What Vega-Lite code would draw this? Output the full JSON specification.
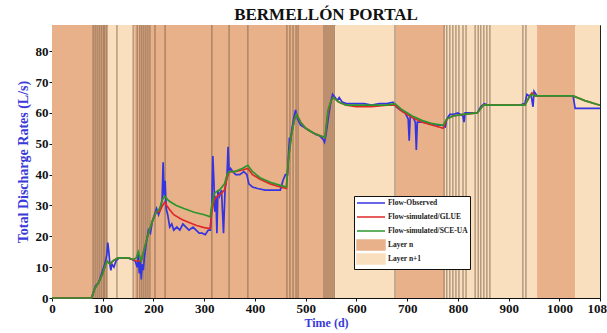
{
  "$schema": "https://vega.github.io/schema/vega-lite/v6.json",
  "autosize": {"type": "none"},
  "width": 548,
  "height": 273,
  "padding": {"left": 52, "top": 25, "right": 7, "bottom": 35},
  "background": "white",
  "config": {
    "view": {"stroke": "#222", "strokeWidth": 1},
    "font": "Liberation Serif"
  },
  "title": {
    "text": "BERMELLÓN PORTAL",
    "font": "Liberation Serif",
    "fontSize": 17,
    "fontWeight": "bold",
    "color": "#111",
    "offset": 0,
    "anchor": "middle"
  },
  "datasets": {
    "bands": [
      {"x0": 0, "x1": 110, "key": "Layer n"},
      {"x0": 110, "x1": 162, "key": "Layer n+1"},
      {"x0": 162, "x1": 558, "key": "Layer n"},
      {"x0": 558, "x1": 678, "key": "Layer n+1"},
      {"x0": 678, "x1": 773, "key": "Layer n"},
      {"x0": 773, "x1": 956, "key": "Layer n+1"},
      {"x0": 956, "x1": 1031, "key": "Layer n"},
      {"x0": 1031, "x1": 1080, "key": "Layer n+1"}
    ],
    "marks": [
      {"t": 81}, {"t": 85}, {"t": 89}, {"t": 93}, {"t": 97}, {"t": 101}, {"t": 104}, {"t": 108},
      {"t": 128},
      {"t": 160}, {"t": 168}, {"t": 173}, {"t": 177}, {"t": 181}, {"t": 185}, {"t": 189}, {"t": 193},
      {"t": 203}, {"t": 223},
      {"t": 315}, {"t": 349}, {"t": 386},
      {"t": 463}, {"t": 469}, {"t": 475}, {"t": 481}, {"t": 485},
      {"t": 536}, {"t": 540}, {"t": 544}, {"t": 548}, {"t": 552}, {"t": 556},
      {"t": 676},
      {"t": 773}, {"t": 778}, {"t": 784}, {"t": 790}, {"t": 796}, {"t": 802},
      {"t": 810}, {"t": 816},
      {"t": 834}, {"t": 840}, {"t": 845}, {"t": 851}, {"t": 857}, {"t": 863},
      {"t": 928}, {"t": 934}
    ],
    "flows": [
      {"t": 0, "v": 0, "key": "Flow-Observed"},
      {"t": 78, "v": 0, "key": "Flow-Observed"},
      {"t": 82, "v": 2, "key": "Flow-Observed"},
      {"t": 86, "v": 4, "key": "Flow-Observed"},
      {"t": 92, "v": 5, "key": "Flow-Observed"},
      {"t": 98, "v": 8, "key": "Flow-Observed"},
      {"t": 104, "v": 11, "key": "Flow-Observed"},
      {"t": 108, "v": 14, "key": "Flow-Observed"},
      {"t": 110, "v": 18, "key": "Flow-Observed"},
      {"t": 112, "v": 15, "key": "Flow-Observed"},
      {"t": 114, "v": 11, "key": "Flow-Observed"},
      {"t": 116, "v": 9, "key": "Flow-Observed"},
      {"t": 118, "v": 11, "key": "Flow-Observed"},
      {"t": 122, "v": 10, "key": "Flow-Observed"},
      {"t": 126, "v": 12, "key": "Flow-Observed"},
      {"t": 132, "v": 13, "key": "Flow-Observed"},
      {"t": 140, "v": 13, "key": "Flow-Observed"},
      {"t": 150, "v": 13, "key": "Flow-Observed"},
      {"t": 158, "v": 12.5, "key": "Flow-Observed"},
      {"t": 164, "v": 12, "key": "Flow-Observed"},
      {"t": 168, "v": 10, "key": "Flow-Observed"},
      {"t": 170, "v": 14, "key": "Flow-Observed"},
      {"t": 172, "v": 8, "key": "Flow-Observed"},
      {"t": 174, "v": 12, "key": "Flow-Observed"},
      {"t": 176, "v": 6, "key": "Flow-Observed"},
      {"t": 178, "v": 11, "key": "Flow-Observed"},
      {"t": 180, "v": 9, "key": "Flow-Observed"},
      {"t": 182, "v": 13, "key": "Flow-Observed"},
      {"t": 186, "v": 18, "key": "Flow-Observed"},
      {"t": 190, "v": 22, "key": "Flow-Observed"},
      {"t": 194, "v": 21, "key": "Flow-Observed"},
      {"t": 198, "v": 25, "key": "Flow-Observed"},
      {"t": 202, "v": 27, "key": "Flow-Observed"},
      {"t": 206, "v": 29, "key": "Flow-Observed"},
      {"t": 210, "v": 27, "key": "Flow-Observed"},
      {"t": 214, "v": 29, "key": "Flow-Observed"},
      {"t": 217, "v": 32, "key": "Flow-Observed"},
      {"t": 219, "v": 44, "key": "Flow-Observed"},
      {"t": 221, "v": 33, "key": "Flow-Observed"},
      {"t": 223, "v": 38, "key": "Flow-Observed"},
      {"t": 225, "v": 29, "key": "Flow-Observed"},
      {"t": 228, "v": 27, "key": "Flow-Observed"},
      {"t": 232, "v": 23, "key": "Flow-Observed"},
      {"t": 236, "v": 24, "key": "Flow-Observed"},
      {"t": 240, "v": 22, "key": "Flow-Observed"},
      {"t": 246, "v": 23, "key": "Flow-Observed"},
      {"t": 252, "v": 22, "key": "Flow-Observed"},
      {"t": 258, "v": 24, "key": "Flow-Observed"},
      {"t": 264, "v": 23, "key": "Flow-Observed"},
      {"t": 270, "v": 22, "key": "Flow-Observed"},
      {"t": 278, "v": 23, "key": "Flow-Observed"},
      {"t": 284, "v": 22, "key": "Flow-Observed"},
      {"t": 290, "v": 21, "key": "Flow-Observed"},
      {"t": 296, "v": 21, "key": "Flow-Observed"},
      {"t": 302, "v": 20.5, "key": "Flow-Observed"},
      {"t": 308, "v": 22, "key": "Flow-Observed"},
      {"t": 312, "v": 22, "key": "Flow-Observed"},
      {"t": 315, "v": 30, "key": "Flow-Observed"},
      {"t": 317, "v": 46, "key": "Flow-Observed"},
      {"t": 319, "v": 38, "key": "Flow-Observed"},
      {"t": 321, "v": 28, "key": "Flow-Observed"},
      {"t": 323, "v": 33, "key": "Flow-Observed"},
      {"t": 325, "v": 21, "key": "Flow-Observed"},
      {"t": 327, "v": 35, "key": "Flow-Observed"},
      {"t": 330, "v": 33, "key": "Flow-Observed"},
      {"t": 334, "v": 35, "key": "Flow-Observed"},
      {"t": 338, "v": 21, "key": "Flow-Observed"},
      {"t": 341, "v": 35, "key": "Flow-Observed"},
      {"t": 345, "v": 40, "key": "Flow-Observed"},
      {"t": 347, "v": 49, "key": "Flow-Observed"},
      {"t": 349, "v": 41, "key": "Flow-Observed"},
      {"t": 352, "v": 42, "key": "Flow-Observed"},
      {"t": 356, "v": 41, "key": "Flow-Observed"},
      {"t": 362, "v": 40, "key": "Flow-Observed"},
      {"t": 370, "v": 40, "key": "Flow-Observed"},
      {"t": 378, "v": 41, "key": "Flow-Observed"},
      {"t": 384, "v": 40, "key": "Flow-Observed"},
      {"t": 388, "v": 37, "key": "Flow-Observed"},
      {"t": 395, "v": 36, "key": "Flow-Observed"},
      {"t": 405, "v": 35.5, "key": "Flow-Observed"},
      {"t": 420, "v": 35, "key": "Flow-Observed"},
      {"t": 435, "v": 35, "key": "Flow-Observed"},
      {"t": 450, "v": 35, "key": "Flow-Observed"},
      {"t": 455, "v": 38, "key": "Flow-Observed"},
      {"t": 460, "v": 40, "key": "Flow-Observed"},
      {"t": 464, "v": 40, "key": "Flow-Observed"},
      {"t": 466, "v": 46, "key": "Flow-Observed"},
      {"t": 468, "v": 52, "key": "Flow-Observed"},
      {"t": 470, "v": 51, "key": "Flow-Observed"},
      {"t": 473, "v": 55, "key": "Flow-Observed"},
      {"t": 476, "v": 58, "key": "Flow-Observed"},
      {"t": 480, "v": 61, "key": "Flow-Observed"},
      {"t": 484, "v": 58, "key": "Flow-Observed"},
      {"t": 490, "v": 56, "key": "Flow-Observed"},
      {"t": 500, "v": 55, "key": "Flow-Observed"},
      {"t": 510, "v": 54, "key": "Flow-Observed"},
      {"t": 520, "v": 53, "key": "Flow-Observed"},
      {"t": 528, "v": 52.5, "key": "Flow-Observed"},
      {"t": 534, "v": 51.5, "key": "Flow-Observed"},
      {"t": 537, "v": 50.5, "key": "Flow-Observed"},
      {"t": 540, "v": 53, "key": "Flow-Observed"},
      {"t": 546, "v": 60, "key": "Flow-Observed"},
      {"t": 550, "v": 64, "key": "Flow-Observed"},
      {"t": 553, "v": 66, "key": "Flow-Observed"},
      {"t": 558, "v": 65, "key": "Flow-Observed"},
      {"t": 562, "v": 64, "key": "Flow-Observed"},
      {"t": 566, "v": 65, "key": "Flow-Observed"},
      {"t": 572, "v": 63.5, "key": "Flow-Observed"},
      {"t": 580, "v": 63, "key": "Flow-Observed"},
      {"t": 600, "v": 63, "key": "Flow-Observed"},
      {"t": 615, "v": 63, "key": "Flow-Observed"},
      {"t": 630, "v": 62.5, "key": "Flow-Observed"},
      {"t": 645, "v": 63, "key": "Flow-Observed"},
      {"t": 660, "v": 63, "key": "Flow-Observed"},
      {"t": 672, "v": 63.5, "key": "Flow-Observed"},
      {"t": 678, "v": 62, "key": "Flow-Observed"},
      {"t": 686, "v": 61, "key": "Flow-Observed"},
      {"t": 696, "v": 60, "key": "Flow-Observed"},
      {"t": 702, "v": 58, "key": "Flow-Observed"},
      {"t": 704, "v": 51, "key": "Flow-Observed"},
      {"t": 706, "v": 59, "key": "Flow-Observed"},
      {"t": 712, "v": 58.5, "key": "Flow-Observed"},
      {"t": 716, "v": 57, "key": "Flow-Observed"},
      {"t": 718, "v": 48, "key": "Flow-Observed"},
      {"t": 720, "v": 57, "key": "Flow-Observed"},
      {"t": 730, "v": 57, "key": "Flow-Observed"},
      {"t": 745, "v": 56.5, "key": "Flow-Observed"},
      {"t": 760, "v": 56, "key": "Flow-Observed"},
      {"t": 770, "v": 56, "key": "Flow-Observed"},
      {"t": 775, "v": 55.5, "key": "Flow-Observed"},
      {"t": 778, "v": 58, "key": "Flow-Observed"},
      {"t": 784, "v": 59.5, "key": "Flow-Observed"},
      {"t": 790, "v": 59.5, "key": "Flow-Observed"},
      {"t": 800, "v": 60, "key": "Flow-Observed"},
      {"t": 810, "v": 59, "key": "Flow-Observed"},
      {"t": 812, "v": 57, "key": "Flow-Observed"},
      {"t": 814, "v": 60, "key": "Flow-Observed"},
      {"t": 825, "v": 60, "key": "Flow-Observed"},
      {"t": 838, "v": 60, "key": "Flow-Observed"},
      {"t": 845, "v": 62, "key": "Flow-Observed"},
      {"t": 852, "v": 63, "key": "Flow-Observed"},
      {"t": 860, "v": 62.5, "key": "Flow-Observed"},
      {"t": 880, "v": 62.5, "key": "Flow-Observed"},
      {"t": 900, "v": 62.5, "key": "Flow-Observed"},
      {"t": 920, "v": 62.5, "key": "Flow-Observed"},
      {"t": 932, "v": 63, "key": "Flow-Observed"},
      {"t": 936, "v": 66, "key": "Flow-Observed"},
      {"t": 940, "v": 65.5, "key": "Flow-Observed"},
      {"t": 944, "v": 66, "key": "Flow-Observed"},
      {"t": 948, "v": 62, "key": "Flow-Observed"},
      {"t": 950, "v": 67, "key": "Flow-Observed"},
      {"t": 956, "v": 65.5, "key": "Flow-Observed"},
      {"t": 970, "v": 65.5, "key": "Flow-Observed"},
      {"t": 990, "v": 65.5, "key": "Flow-Observed"},
      {"t": 1010, "v": 65.5, "key": "Flow-Observed"},
      {"t": 1027, "v": 65.5, "key": "Flow-Observed"},
      {"t": 1031, "v": 61.5, "key": "Flow-Observed"},
      {"t": 1040, "v": 61.5, "key": "Flow-Observed"},
      {"t": 1060, "v": 61.5, "key": "Flow-Observed"},
      {"t": 1080, "v": 61.5, "key": "Flow-Observed"},

      {"t": 0, "v": 0, "key": "Flow-simulated/GLUE"},
      {"t": 78, "v": 0, "key": "Flow-simulated/GLUE"},
      {"t": 84, "v": 3, "key": "Flow-simulated/GLUE"},
      {"t": 92, "v": 5, "key": "Flow-simulated/GLUE"},
      {"t": 100, "v": 8, "key": "Flow-simulated/GLUE"},
      {"t": 108, "v": 12, "key": "Flow-simulated/GLUE"},
      {"t": 114, "v": 11, "key": "Flow-simulated/GLUE"},
      {"t": 120, "v": 12, "key": "Flow-simulated/GLUE"},
      {"t": 130, "v": 13, "key": "Flow-simulated/GLUE"},
      {"t": 150, "v": 13, "key": "Flow-simulated/GLUE"},
      {"t": 160, "v": 12.5, "key": "Flow-simulated/GLUE"},
      {"t": 166, "v": 12, "key": "Flow-simulated/GLUE"},
      {"t": 176, "v": 12, "key": "Flow-simulated/GLUE"},
      {"t": 182, "v": 16, "key": "Flow-simulated/GLUE"},
      {"t": 190, "v": 21, "key": "Flow-simulated/GLUE"},
      {"t": 198, "v": 25, "key": "Flow-simulated/GLUE"},
      {"t": 206, "v": 28, "key": "Flow-simulated/GLUE"},
      {"t": 212, "v": 28, "key": "Flow-simulated/GLUE"},
      {"t": 218, "v": 30, "key": "Flow-simulated/GLUE"},
      {"t": 222, "v": 31, "key": "Flow-simulated/GLUE"},
      {"t": 230, "v": 29, "key": "Flow-simulated/GLUE"},
      {"t": 240, "v": 27, "key": "Flow-simulated/GLUE"},
      {"t": 255, "v": 25.5, "key": "Flow-simulated/GLUE"},
      {"t": 270, "v": 24.5, "key": "Flow-simulated/GLUE"},
      {"t": 285, "v": 23.5, "key": "Flow-simulated/GLUE"},
      {"t": 300, "v": 22.8, "key": "Flow-simulated/GLUE"},
      {"t": 312, "v": 22.5, "key": "Flow-simulated/GLUE"},
      {"t": 315, "v": 28, "key": "Flow-simulated/GLUE"},
      {"t": 320, "v": 32, "key": "Flow-simulated/GLUE"},
      {"t": 326, "v": 33, "key": "Flow-simulated/GLUE"},
      {"t": 334, "v": 34, "key": "Flow-simulated/GLUE"},
      {"t": 340, "v": 35, "key": "Flow-simulated/GLUE"},
      {"t": 345, "v": 39, "key": "Flow-simulated/GLUE"},
      {"t": 350, "v": 41, "key": "Flow-simulated/GLUE"},
      {"t": 360, "v": 41, "key": "Flow-simulated/GLUE"},
      {"t": 375, "v": 41.5, "key": "Flow-simulated/GLUE"},
      {"t": 386, "v": 42, "key": "Flow-simulated/GLUE"},
      {"t": 395, "v": 40, "key": "Flow-simulated/GLUE"},
      {"t": 410, "v": 38.5, "key": "Flow-simulated/GLUE"},
      {"t": 430, "v": 37, "key": "Flow-simulated/GLUE"},
      {"t": 450, "v": 36, "key": "Flow-simulated/GLUE"},
      {"t": 462, "v": 35.5, "key": "Flow-simulated/GLUE"},
      {"t": 466, "v": 45, "key": "Flow-simulated/GLUE"},
      {"t": 472, "v": 53, "key": "Flow-simulated/GLUE"},
      {"t": 478, "v": 58, "key": "Flow-simulated/GLUE"},
      {"t": 482, "v": 59.5, "key": "Flow-simulated/GLUE"},
      {"t": 490, "v": 57, "key": "Flow-simulated/GLUE"},
      {"t": 500, "v": 55, "key": "Flow-simulated/GLUE"},
      {"t": 515, "v": 53.5, "key": "Flow-simulated/GLUE"},
      {"t": 530, "v": 52.5, "key": "Flow-simulated/GLUE"},
      {"t": 538, "v": 52, "key": "Flow-simulated/GLUE"},
      {"t": 544, "v": 60, "key": "Flow-simulated/GLUE"},
      {"t": 550, "v": 64, "key": "Flow-simulated/GLUE"},
      {"t": 555, "v": 65, "key": "Flow-simulated/GLUE"},
      {"t": 565, "v": 63.5, "key": "Flow-simulated/GLUE"},
      {"t": 580, "v": 62.5, "key": "Flow-simulated/GLUE"},
      {"t": 600, "v": 62, "key": "Flow-simulated/GLUE"},
      {"t": 630, "v": 62, "key": "Flow-simulated/GLUE"},
      {"t": 660, "v": 62.5, "key": "Flow-simulated/GLUE"},
      {"t": 676, "v": 62.5, "key": "Flow-simulated/GLUE"},
      {"t": 690, "v": 60.5, "key": "Flow-simulated/GLUE"},
      {"t": 710, "v": 58.5, "key": "Flow-simulated/GLUE"},
      {"t": 730, "v": 57, "key": "Flow-simulated/GLUE"},
      {"t": 750, "v": 56, "key": "Flow-simulated/GLUE"},
      {"t": 771, "v": 55, "key": "Flow-simulated/GLUE"},
      {"t": 778, "v": 58, "key": "Flow-simulated/GLUE"},
      {"t": 790, "v": 59, "key": "Flow-simulated/GLUE"},
      {"t": 810, "v": 59.5, "key": "Flow-simulated/GLUE"},
      {"t": 838, "v": 60, "key": "Flow-simulated/GLUE"},
      {"t": 850, "v": 62.5, "key": "Flow-simulated/GLUE"},
      {"t": 880, "v": 62.5, "key": "Flow-simulated/GLUE"},
      {"t": 932, "v": 62.5, "key": "Flow-simulated/GLUE"},
      {"t": 940, "v": 65, "key": "Flow-simulated/GLUE"},
      {"t": 946, "v": 66.5, "key": "Flow-simulated/GLUE"},
      {"t": 952, "v": 65.5, "key": "Flow-simulated/GLUE"},
      {"t": 980, "v": 65.5, "key": "Flow-simulated/GLUE"},
      {"t": 1027, "v": 65.5, "key": "Flow-simulated/GLUE"},
      {"t": 1050, "v": 64, "key": "Flow-simulated/GLUE"},
      {"t": 1080, "v": 62.5, "key": "Flow-simulated/GLUE"},

      {"t": 0, "v": 0, "key": "Flow-simulated/SCE-UA"},
      {"t": 78, "v": 0, "key": "Flow-simulated/SCE-UA"},
      {"t": 84, "v": 3, "key": "Flow-simulated/SCE-UA"},
      {"t": 92, "v": 5, "key": "Flow-simulated/SCE-UA"},
      {"t": 100, "v": 8, "key": "Flow-simulated/SCE-UA"},
      {"t": 108, "v": 12, "key": "Flow-simulated/SCE-UA"},
      {"t": 114, "v": 11, "key": "Flow-simulated/SCE-UA"},
      {"t": 120, "v": 12, "key": "Flow-simulated/SCE-UA"},
      {"t": 130, "v": 13, "key": "Flow-simulated/SCE-UA"},
      {"t": 150, "v": 13, "key": "Flow-simulated/SCE-UA"},
      {"t": 160, "v": 12.5, "key": "Flow-simulated/SCE-UA"},
      {"t": 166, "v": 13, "key": "Flow-simulated/SCE-UA"},
      {"t": 170, "v": 15, "key": "Flow-simulated/SCE-UA"},
      {"t": 176, "v": 12, "key": "Flow-simulated/SCE-UA"},
      {"t": 182, "v": 16, "key": "Flow-simulated/SCE-UA"},
      {"t": 190, "v": 21, "key": "Flow-simulated/SCE-UA"},
      {"t": 198, "v": 25, "key": "Flow-simulated/SCE-UA"},
      {"t": 206, "v": 28, "key": "Flow-simulated/SCE-UA"},
      {"t": 212, "v": 29, "key": "Flow-simulated/SCE-UA"},
      {"t": 218, "v": 32, "key": "Flow-simulated/SCE-UA"},
      {"t": 222, "v": 33, "key": "Flow-simulated/SCE-UA"},
      {"t": 230, "v": 31.5, "key": "Flow-simulated/SCE-UA"},
      {"t": 245, "v": 30, "key": "Flow-simulated/SCE-UA"},
      {"t": 260, "v": 29, "key": "Flow-simulated/SCE-UA"},
      {"t": 280, "v": 27.8, "key": "Flow-simulated/SCE-UA"},
      {"t": 300, "v": 27, "key": "Flow-simulated/SCE-UA"},
      {"t": 312, "v": 26.3, "key": "Flow-simulated/SCE-UA"},
      {"t": 315, "v": 30, "key": "Flow-simulated/SCE-UA"},
      {"t": 320, "v": 34, "key": "Flow-simulated/SCE-UA"},
      {"t": 330, "v": 35, "key": "Flow-simulated/SCE-UA"},
      {"t": 340, "v": 37, "key": "Flow-simulated/SCE-UA"},
      {"t": 345, "v": 40, "key": "Flow-simulated/SCE-UA"},
      {"t": 350, "v": 41, "key": "Flow-simulated/SCE-UA"},
      {"t": 360, "v": 41, "key": "Flow-simulated/SCE-UA"},
      {"t": 375, "v": 42, "key": "Flow-simulated/SCE-UA"},
      {"t": 386, "v": 43, "key": "Flow-simulated/SCE-UA"},
      {"t": 395, "v": 41, "key": "Flow-simulated/SCE-UA"},
      {"t": 410, "v": 39, "key": "Flow-simulated/SCE-UA"},
      {"t": 430, "v": 37.5, "key": "Flow-simulated/SCE-UA"},
      {"t": 450, "v": 36.5, "key": "Flow-simulated/SCE-UA"},
      {"t": 462, "v": 36, "key": "Flow-simulated/SCE-UA"},
      {"t": 466, "v": 45, "key": "Flow-simulated/SCE-UA"},
      {"t": 472, "v": 53, "key": "Flow-simulated/SCE-UA"},
      {"t": 478, "v": 58, "key": "Flow-simulated/SCE-UA"},
      {"t": 482, "v": 59.5, "key": "Flow-simulated/SCE-UA"},
      {"t": 490, "v": 57, "key": "Flow-simulated/SCE-UA"},
      {"t": 500, "v": 55, "key": "Flow-simulated/SCE-UA"},
      {"t": 515, "v": 53.5, "key": "Flow-simulated/SCE-UA"},
      {"t": 530, "v": 52.5, "key": "Flow-simulated/SCE-UA"},
      {"t": 538, "v": 52, "key": "Flow-simulated/SCE-UA"},
      {"t": 544, "v": 61, "key": "Flow-simulated/SCE-UA"},
      {"t": 550, "v": 64, "key": "Flow-simulated/SCE-UA"},
      {"t": 555, "v": 65, "key": "Flow-simulated/SCE-UA"},
      {"t": 565, "v": 63.5, "key": "Flow-simulated/SCE-UA"},
      {"t": 580, "v": 62.5, "key": "Flow-simulated/SCE-UA"},
      {"t": 600, "v": 62.5, "key": "Flow-simulated/SCE-UA"},
      {"t": 630, "v": 62.5, "key": "Flow-simulated/SCE-UA"},
      {"t": 660, "v": 62.5, "key": "Flow-simulated/SCE-UA"},
      {"t": 676, "v": 63, "key": "Flow-simulated/SCE-UA"},
      {"t": 690, "v": 61, "key": "Flow-simulated/SCE-UA"},
      {"t": 710, "v": 59, "key": "Flow-simulated/SCE-UA"},
      {"t": 730, "v": 57.5, "key": "Flow-simulated/SCE-UA"},
      {"t": 750, "v": 56.5, "key": "Flow-simulated/SCE-UA"},
      {"t": 771, "v": 56, "key": "Flow-simulated/SCE-UA"},
      {"t": 778, "v": 58, "key": "Flow-simulated/SCE-UA"},
      {"t": 790, "v": 59, "key": "Flow-simulated/SCE-UA"},
      {"t": 810, "v": 59.5, "key": "Flow-simulated/SCE-UA"},
      {"t": 838, "v": 60, "key": "Flow-simulated/SCE-UA"},
      {"t": 850, "v": 62.5, "key": "Flow-simulated/SCE-UA"},
      {"t": 880, "v": 62.5, "key": "Flow-simulated/SCE-UA"},
      {"t": 932, "v": 62.5, "key": "Flow-simulated/SCE-UA"},
      {"t": 940, "v": 65, "key": "Flow-simulated/SCE-UA"},
      {"t": 946, "v": 66, "key": "Flow-simulated/SCE-UA"},
      {"t": 952, "v": 65.5, "key": "Flow-simulated/SCE-UA"},
      {"t": 980, "v": 65.5, "key": "Flow-simulated/SCE-UA"},
      {"t": 1027, "v": 65.5, "key": "Flow-simulated/SCE-UA"},
      {"t": 1050, "v": 64, "key": "Flow-simulated/SCE-UA"},
      {"t": 1080, "v": 62.5, "key": "Flow-simulated/SCE-UA"}
    ]
  },
  "layer": [
    {
      "data": {"name": "bands"},
      "mark": {"type": "rect"},
      "encoding": {
        "x": {"field": "x0", "type": "quantitative", "scale": {"domain": [0, 1080], "nice": false, "zero": false}},
        "x2": {"field": "x1"},
        "color": {
          "field": "key", "type": "nominal",
          "scale": {
            "domain": ["Flow-Observed", "Flow-simulated/GLUE", "Flow-simulated/SCE-UA", "Layer n", "Layer n+1"],
            "range": ["#3434e0", "#e02828", "#2c962c", "#e9b189", "#fadfbf"]
          },
          "legend": {
            "orient": "none", "legendX": 302, "legendY": 171, "title": null,
            "fillColor": "white", "strokeColor": "#111", "padding": 2,
            "labelFont": "Liberation Serif", "labelFontSize": 7.5, "labelFontWeight": "bold", "labelColor": "#222",
            "labelLimit": 200, "symbolSize": 64, "symbolStrokeWidth": 1.5, "rowPadding": -2, "labelOffset": 12, "symbolOffset": 10,
            "encode": {"symbols": {"update": {
              "size": {"value": 64},
              "strokeWidth": {"value": 1.5},
              "shape": {"signal": "datum.value === 'Layer n' || datum.value === 'Layer n+1' ? 'M-3.5,-1.25H3.5V1.25H-3.5Z' : 'M-3.5,-1.25M-3.5,0H3.5M3.5,1.25'"},
              "fill": {"signal": "datum.value === 'Layer n' ? '#d0802e' : datum.value === 'Layer n+1' ? '#e8cc6e' : 'transparent'"},
              "stroke": {"signal": "datum.value === 'Layer n' ? '#8a5a2a' : datum.value === 'Layer n+1' ? '#c0a868' : datum.value === 'Flow-Observed' ? '#3434e0' : datum.value === 'Flow-simulated/GLUE' ? '#e02828' : '#2c962c'"},
              "opacity": {"value": 1}
            }}}
          }
        }
      }
    },
    {
      "data": {"name": "marks"},
      "mark": {"type": "rule", "color": "#7a6048", "opacity": 0.55, "strokeWidth": 1.5},
      "encoding": {
        "x": {"field": "t", "type": "quantitative"}
      }
    },
    {
      "data": {"name": "flows"},
      "mark": {"type": "line", "strokeWidth": 1.7},
      "encoding": {
        "x": {
          "field": "t", "type": "quantitative",
          "title": "Time (d)",
          "axis": {
            "values": [0, 100, 200, 300, 400, 500, 600, 700, 800, 900, 1000, 1080],
            "format": "d",
            "grid": false, "tickSize": 3, "domainColor": "#111", "tickColor": "#111",
            "labelFont": "Liberation Serif", "labelFontSize": 13, "labelFontWeight": "bold", "labelColor": "#111",
            "labelPadding": 1, "labelFlush": false, "labelOverlap": false,
            "titleFont": "Liberation Serif", "titleFontSize": 12, "titleFontWeight": "bold", "titleColor": "#3a3ad8", "titlePadding": 2
          }
        },
        "y": {
          "field": "v", "type": "quantitative",
          "title": "Total Discharge Rates (L/s)",
          "scale": {"domain": [0, 88.5], "nice": false},
          "axis": {
            "values": [0, 10, 20, 30, 40, 50, 60, 70, 80],
            "grid": false, "tickSize": 3, "domainColor": "#111", "tickColor": "#111",
            "labelFont": "Liberation Serif", "labelFontSize": 13, "labelFontWeight": "bold", "labelColor": "#111",
            "labelPadding": 1,
            "titleFont": "Liberation Serif", "titleFontSize": 14, "titleFontWeight": "bold", "titleColor": "#3a3ad8", "titlePadding": 5
          }
        },
        "color": {
          "field": "key", "type": "nominal",
          "legend": {
            "orient": "none", "legendX": 302, "legendY": 171, "title": null,
            "fillColor": "white", "strokeColor": "#111", "padding": 2,
            "labelFont": "Liberation Serif", "labelFontSize": 7.5, "labelFontWeight": "bold", "labelColor": "#222",
            "labelLimit": 200, "symbolSize": 64, "symbolStrokeWidth": 1.5, "rowPadding": -2, "labelOffset": 12, "symbolOffset": 10,
            "encode": {"symbols": {"update": {
              "size": {"value": 64},
              "strokeWidth": {"value": 1.5},
              "shape": {"signal": "datum.value === 'Layer n' || datum.value === 'Layer n+1' ? 'M-3.5,-1.25H3.5V1.25H-3.5Z' : 'M-3.5,-1.25M-3.5,0H3.5M3.5,1.25'"},
              "fill": {"signal": "datum.value === 'Layer n' ? '#d0802e' : datum.value === 'Layer n+1' ? '#e8cc6e' : 'transparent'"},
              "stroke": {"signal": "datum.value === 'Layer n' ? '#8a5a2a' : datum.value === 'Layer n+1' ? '#c0a868' : datum.value === 'Flow-Observed' ? '#3434e0' : datum.value === 'Flow-simulated/GLUE' ? '#e02828' : '#2c962c'"},
              "opacity": {"value": 1}
            }}}
          }
        }
      }
    }
  ]
}
